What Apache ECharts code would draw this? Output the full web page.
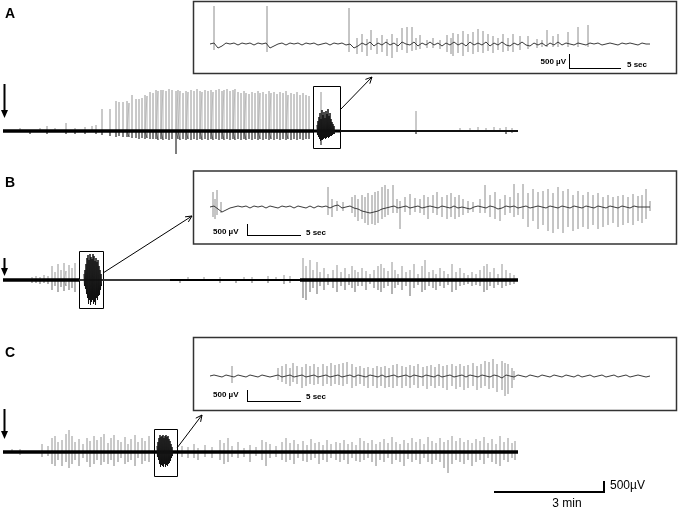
<!DOCTYPE html>
<html><head><meta charset="utf-8">
<script src="https://cdn.jsdelivr.net/npm/echarts@6/dist/echarts.min.js"></script>
<style>html,body{margin:0;padding:0;background:#fff}#c{width:680px;height:511px}</style>
</head><body><div id="c"></div>
<script>
// ---------- DATA (time in trace units, amplitude in trace units) ----------
// Main trace A: gray spikes [time, up, down]
const mainASpikes = [[10,2,2],[20,3,2],[30,2,3],[40,3,2],[47,5,3],[55,3,2],[66,8,3],[75,3,3],[85,4,3],[92,5,2],[96,6,3],
[102,22,4],[110,22,5],[116,30,6],[119,29,5],[123,29,6],[127,30,6],[129,28,6],[132,36,7],[136,32,7],[139,32,8],[142,33,7],[145,36,8],[147,35,7],[150,39,8],[153,38,8],[156,41,8],[158,40,9],[161,41,8],[163,41,9],[166,40,8],[169,42,9],[172,41,8],[176,40,23],[178,41,8],[180,40,9],[183,38,8],[186,40,9],[188,39,8],[191,41,9],[194,40,8],[197,42,9],[200,40,8],[202,39,9],[205,41,8],[208,40,9],[211,41,8],[213,39,9],[216,41,8],[219,42,9],[222,40,8],[224,41,9],[227,42,8],[230,40,9],[233,41,8],[235,42,9],[238,39,8],[241,38,9],[244,40,8],[246,38,9],[249,37,8],[252,39,9],[255,38,8],[258,40,9],[260,38,8],[263,39,9],[266,37,8],[269,40,9],[271,38,8],[274,39,9],[277,37,8],[280,39,9],[283,38,8],[286,40,9],[288,36,8],[291,38,9],[294,37,8],[297,39,9],[300,36,8],[303,38,9],[306,36,8],[309,35,8],[321,39,14],
[345,2,2],[360,2,2],[380,2,1],[400,2,2],[416,20,3],[440,2,2],[460,3,2],[470,3,2],[478,4,2],[486,3,2],[494,4,2],[500,3,2],[506,4,3],[512,3,2]];
// Main trace A: seizure burst (dense) [time, up, down]
const mainABurst = [[317,6,4],[318,10,6],[319,14,8],[320,18,10],[321,12,9],[322,21,9],[323,16,8],[324,19,7],[325,13,8],[326,20,7],[327,17,6],[328,22,7],[329,15,6],[330,18,5],[331,12,5],[332,9,4],[333,7,3],[334,5,3]];

const mainBSpikes = [[32,3,3],[36,4,3],[40,3,4],[44,5,3],[48,4,4],[52,14,10],[55,8,6],[58,16,12],[61,10,7],[64,17,11],[66,9,6],[69,15,10],[72,12,8],[75,17,12],
[172,2,2],[180,2,3],[188,3,2],[196,2,2],[204,3,2],[212,2,2],[220,3,3],[228,2,2],[236,2,3],[244,3,2],[252,3,3],[260,2,2],[268,4,3],[276,3,2],[284,5,4],[290,4,3],
[303,22,18],[306,14,20],[310,20,12],[313,10,8],[317,18,14],[320,8,6],[324,12,10],[328,6,5],[333,10,8],[337,15,12],[341,8,6],[345,12,10],[349,6,5],[352,14,8],[355,10,12],[358,8,6],[362,12,6],[366,9,10],[370,6,4],[374,10,8],[378,14,10],[381,16,12],[384,12,8],[388,9,6],[392,18,14],[395,10,8],[398,6,5],[402,14,10],[406,8,6],[410,10,16],[414,16,8],[418,6,5],[422,14,12],[425,20,10],[429,8,6],[433,10,8],[436,6,10],[440,12,6],[444,9,8],[448,6,5],[452,16,12],[456,8,10],[460,12,6],[464,7,5],[468,5,4],[472,8,6],[476,6,5],[480,10,6],[484,14,12],[487,16,10],[490,8,6],[494,12,8],[498,6,5],[502,16,8],[506,10,6],[510,7,5],[514,5,4]];
const mainBBurst = [[84,6,6],[85,10,9],[86,16,14],[87,22,18],[88,25,24],[89,20,20],[90,26,25],[91,23,22],[92,21,20],[93,26,24],[94,24,22],[95,19,25],[96,22,18],[97,18,20],[98,20,16],[99,14,15],[100,10,10],[101,6,6]];

const mainCSpikes = [[12,3,2],[20,3,3],[28,2,2],[42,8,5],[48,6,4],[52,14,12],[55,16,14],[58,10,8],[62,12,14],[66,18,10],[69,22,16],[72,16,12],[75,10,8],[79,13,14],[83,8,6],[87,14,10],[90,11,15],[94,16,12],[97,12,8],[101,15,13],[104,18,10],[108,9,12],[111,14,8],[114,17,14],[118,12,10],[121,10,6],[125,15,12],[128,8,10],[131,13,8],[135,17,14],[138,10,6],[142,14,12],[145,11,9],[149,16,10],
[182,6,5],[188,5,6],[194,8,6],[198,4,8],[205,7,5],[212,5,6],[220,12,8],[224,9,12],[228,14,10],[232,6,5],[238,10,6],[244,4,5],[250,7,10],[256,5,4],[262,12,8],[266,10,14],[270,8,6],[276,6,5],[282,10,8],[286,14,10],[290,9,8],[294,12,12],[298,8,6],[303,11,9],[307,7,10],[311,13,8],[315,9,6],[319,10,12],[323,7,8],[327,12,10],[331,8,6],[336,10,8],[340,9,10],[344,12,8],[348,8,12],[352,10,6],[356,7,9],[360,14,10],[364,11,8],[368,9,6],[372,12,10],[376,8,14],[380,10,8],[384,13,10],[388,9,6],[392,15,12],[396,10,8],[400,8,10],[404,12,14],[408,9,7],[412,14,10],[416,10,8],[420,13,12],[424,8,6],[428,15,10],[432,11,12],[436,9,8],[440,14,10],[444,10,16],[448,12,21],[452,16,12],[456,11,8],[460,14,10],[464,10,12],[468,12,8],[472,9,14],[476,13,10],[480,11,8],[484,15,12],[488,9,6],[492,13,10],[496,8,12],[500,16,14],[504,10,8],[508,14,10],[512,9,6],[515,11,8]];
const mainCBurst = [[157,6,5],[158,10,8],[159,14,12],[160,17,15],[161,15,13],[162,16,14],[163,17,15],[164,14,12],[165,16,15],[166,17,13],[167,15,14],[168,16,12],[169,13,11],[170,11,9],[171,8,6],[172,5,4]];

// Insets (expanded 5-sec-scale views): spikes [time, up, down] and background ripple (every 4 units)
const insetASpikes = [[4,38,6],[57,38,8],[139,36,8],[147,6,10],[152,10,8],[157,5,12],[161,14,6],[167,6,10],[172,9,8],[177,5,12],[182,10,14],[187,6,8],[192,16,6],[197,17,9],[202,17,7],[206,6,6],[210,9,5],[217,4,4],[223,6,4],[230,4,5],[237,9,8],[241,6,10],[243,11,12],[248,10,9],[253,13,12],[258,10,8],[263,12,10],[268,15,8],[273,13,9],[278,10,7],[283,8,9],[288,6,6],[293,10,8],[298,6,7],[303,10,8],[310,8,6],[318,8,5],[327,5,4],[332,4,3],[337,14,3],[343,8,3],[348,10,3],[358,12,3],[368,17,3],[378,19,3]];
const insetARipple = [0,1,-4,-2,1,0,1,-1,1,0, 1,-1,1,0,1,-4,-2,0,1,-1, 1,0,1,-1,1,0,1,-1,0,1, -1,1,0,1,-1,0,-4,-2,1,-1, 2,-2,1,-1,2,-1,1,-2,2,0, -1,2,-2,1,-1,2,-1,1,-2,1, -1,2,-1,1,-2,2,-1,1,-1,2, -2,1,-1,2,-1,-2,1,-1,2,-1, -2,1,-1,1,-2,1,-1,2,-1,1, 0,-1,1,0,-1,1,0,1,-1,0, 1,0,-1,1,0,1,0,-1,1,0,0];

const insetBSpikes = [[3,15,10],[5,8,12],[7,17,8],[11,5,6],[118,20,8],[122,8,10],[127,6,4],[133,5,4],[142,10,6],[145,12,10],[148,8,14],[152,12,12],[155,10,16],[158,14,18],[162,12,17],[165,15,18],[168,16,16],[172,20,12],[175,22,10],[178,18,8],[183,22,6],[187,8,6],[190,6,22],[195,10,5],[200,13,8],[205,9,5],[210,8,6],[214,12,8],[218,10,12],[223,12,6],[227,15,8],[232,10,10],[237,12,12],[241,14,10],[245,10,12],[249,12,10],[253,8,8],[258,6,6],[263,5,5],[270,8,6],[275,22,6],[280,12,10],[285,15,12],[290,8,14],[295,12,8],[300,10,6],[304,23,10],[308,14,8],[313,23,12],[318,14,20],[323,18,14],[328,15,22],[333,16,18],[338,18,24],[343,14,26],[348,20,22],[353,16,26],[358,18,20],[363,12,24],[368,16,22],[373,12,20],[378,15,22],[383,12,18],[388,14,22],[393,10,20],[398,12,18],[403,10,16],[408,11,20],[413,12,18],[418,10,16],[423,13,18],[428,11,14],[432,12,16],[436,18,12],[440,6,4]];
const insetBRipple = [0,1,-2,-5,-3,-1,0,1,0,1, -1,1,0,1,-1,1,0,-1,1,0, 1,-1,1,0,-1,1,-1,1,0,1, -1,1,2,-1,0,1,-1,-2,-4,-5, -6,-5,-4,-2,-1,0,1,-1,0,1, -1,0,1,-1,0,1,0,-1,1,0, -1,1,-1,0,-1,-2,0,1,0,-1, 1,0,-2,-1,1,0,1,-1,0,1, -1,0,1,0,-1,1,0,-1,1,0, -1,1,0,-1,1,0,-1,1,0,-1, 1,0,-1,1,0,-1,1,0,0,0,0];

const insetCSpikes = [[22,10,7],[68,8,4],[72,10,6],[76,12,8],[80,8,10],[83,13,6],[87,10,8],[92,9,12],[96,12,10],[100,10,8],[104,12,9],[108,9,8],[113,12,10],[117,10,8],[121,13,10],[125,11,8],[129,12,9],[133,13,10],[137,14,8],[142,12,12],[146,9,10],[150,10,8],[154,8,10],[158,9,12],[163,8,10],[167,10,12],[171,9,10],[175,10,12],[179,8,11],[183,11,12],[187,12,10],[192,10,12],[196,9,10],[200,11,12],[204,10,9],[208,12,12],[213,9,10],[217,10,13],[221,11,10],[225,9,12],[229,12,10],[233,10,12],[237,11,14],[242,12,10],[246,10,13],[250,12,11],[254,10,14],[258,11,12],[263,13,10],[267,10,14],[271,12,12],[275,15,10],[279,14,13],[283,17,12],[287,12,16],[292,15,14],[295,13,20],[298,12,18],[302,8,12],[304,5,4]];
const insetCRipple = [0,1,0,-1,1,0,-1,1,0,-1, 1,0,-1,1,0,-1,0,1,-1,0, 1,-1,0,1,-1,0,1,-1,0,1, -1,0,1,-1,0,1,-1,1,0,-1, 1,0,-1,1,-1,0,1,-1,0,1, -1,1,0,-1,1,0,-1,1,-1,0, 1,-1,0,1,-1,1,0,-1,1,0, -1,1,0,-2,1,0,-1,1,0,-1, 1,0,-1,1,0,-1,1,0,-1,1, 0,-1,1,-1,0,1,-1,0,1,-1, 0,1,-1,0,1,-1,0,1,0,-1,0];
const rippleStep = 4;

// ---------- BUILDERS ----------
function upPts(sp){const p=[];sp.forEach(s=>{p.push([s[0],0],[s[0],s[1]],[s[0],0]);});return p;}
function downPts(sp){const p=[];sp.forEach(s=>{p.push([s[0],0],[s[0],-s[2]],[s[0],0]);});return p;}
function burstPts(sp){const p=[];sp.forEach(s=>{p.push([s[0],s[1]],[s[0]+0.5,-s[2]]);});return p;}
function vertPts(sp){const p=[];sp.forEach(s=>{p.push([s[0],s[1]],[s[0],-s[2]],[s[0],'-']);});return p;}
function ripplePts(r){return r.map((v,i)=>[i*rippleStep,v]);}
function ls(idx,data,color,width,z){return {type:'line',xAxisIndex:idx,yAxisIndex:idx,data:data,symbol:'none',showSymbol:false,silent:true,clip:false,connectNulls:false,z:z||2,lineStyle:{color:color,width:width},animation:false};}

const mainBase=[131,280,452], insetBase=[44,207,376];
const grids=[],xAxes=[],yAxes=[];
mainBase.forEach(b=>{grids.push({left:0,top:b-50,width:520,height:100});});
insetBase.forEach(b=>{grids.push({left:210,top:b-40,width:442,height:80});});
grids.forEach((g,i)=>{
  const main=i<3;
  xAxes.push({type:'value',gridIndex:i,min:0,max:main?520:442,show:false});
  yAxes.push({type:'value',gridIndex:i,min:main?-50:-40,max:main?50:40,show:false});
});

const series=[
  ls(0,upPts(mainASpikes),'#b8b8b8',1,2), ls(0,downPts(mainASpikes),'#555',1,3),
  ls(0,[[3,0],[313,0]],'#000',3.5,4), ls(0,[[313,0],[340,0]],'#000',3,4), ls(0,[[340,0],[518,0]],'#111',2,4),
  ls(0,burstPts(mainABurst),'#111',1,5),
  ls(1,upPts(mainBSpikes),'#b8b8b8',1,2), ls(1,downPts(mainBSpikes),'#999',1,3),
  ls(1,[[3,0],[79,0]],'#000',3.5,4), ls(1,[[79,0],[170,0]],'#111',1.3,4), ls(1,[[170,0],[300,0]],'#000',2.2,4), ls(1,[[300,0],[518,0]],'#000',3.5,4),
  ls(1,burstPts(mainBBurst),'#111',1,5),
  ls(2,upPts(mainCSpikes),'#b8b8b8',1,2), ls(2,downPts(mainCSpikes),'#aaa',1,3),
  ls(2,[[3,0],[518,0]],'#000',3.5,4),
  ls(2,burstPts(mainCBurst),'#111',1,5),
  ls(3,vertPts(insetASpikes),'#8c8c8c',1,2), ls(3,ripplePts(insetARipple),'#3a3a3a',1,3),
  ls(4,vertPts(insetBSpikes),'#8c8c8c',1,2), ls(4,ripplePts(insetBRipple),'#3a3a3a',1,3),
  ls(5,vertPts(insetCSpikes),'#8c8c8c',1,2), ls(5,ripplePts(insetCRipple),'#3a3a3a',1,3)
];

// ---------- ANNOTATIONS ----------
const F='"Liberation Sans", Arial, sans-serif';
const g=[];
function txt(x,y,t,font,align){g.push({type:'text',x:x,y:y,silent:true,style:{text:t,font:font,fill:'#000',align:align||'left',verticalAlign:'middle'}});}
function line(x1,y1,x2,y2,w,c){g.push({type:'line',silent:true,shape:{x1:x1,y1:y1,x2:x2,y2:y2},style:{stroke:c||'#000',lineWidth:w||1}});}
function rect(x,y,w,h,lw,c){g.push({type:'rect',silent:true,shape:{x:x,y:y,width:w,height:h},style:{fill:'none',stroke:c||'#000',lineWidth:lw||1}});}
function downArrow(x,y1,y2){line(x,y1,x,y2-6,2);g.push({type:'polygon',silent:true,shape:{points:[[x-3.5,y2-8],[x+3.5,y2-8],[x,y2]]},style:{fill:'#000'}});}
function zoomArrow(x1,y1,x2,y2){
  line(x1,y1,x2,y2,1);
  const a=Math.atan2(y2-y1,x2-x1),L=7,s=0.45;
  g.push({type:'polyline',silent:true,shape:{points:[[x2-L*Math.cos(a-s),y2-L*Math.sin(a-s)],[x2,y2],[x2-L*Math.cos(a+s),y2-L*Math.sin(a+s)]]},style:{stroke:'#000',lineWidth:1,fill:'none'}});
}
txt(10,14,'A','bold 14px '+F,'center');
txt(10,183,'B','bold 14px '+F,'center');
txt(10,353,'C','bold 14px '+F,'center');
downArrow(4.5,84,118); downArrow(4.5,258,276); downArrow(4.5,409,439);
rect(193.5,1.5,483,72,1.5,'#333'); rect(193.5,171,483,73,1.5,'#333'); rect(193.5,337.5,483,73,1.5,'#333');
rect(313.5,86.5,27,62,1); rect(79.5,251.5,24,57,1); rect(154.5,429.5,23,47,1);
zoomArrow(340,110,372,77); zoomArrow(103,273,192,216); zoomArrow(177,448,202,415);
txt(566,62,'500 µV','bold 8px '+F,'right'); line(569.5,54,569.5,68.5,1); line(569,68.5,621,68.5,1); txt(627,64.5,'5 sec','bold 8px '+F,'left');
txt(213,231.5,'500 µV','bold 8px '+F,'left'); line(247.5,224,247.5,235.5,1); line(247,235.5,301,235.5,1); txt(306,233,'5 sec','bold 8px '+F,'left');
txt(213,395,'500 µV','bold 8px '+F,'left'); line(247.5,390,247.5,401.5,1); line(247,401.5,301,401.5,1); txt(306,397,'5 sec','bold 8px '+F,'left');
line(494,492,605,492,2); line(604,481,604,493,2);
txt(610,486,'500µV','12px '+F,'left');
txt(567,504,'3 min','12px '+F,'center');

const chart=echarts.init(document.getElementById('c'),null,{renderer:'canvas'});
chart.setOption({animation:false,backgroundColor:'#fff',grid:grids,xAxis:xAxes,yAxis:yAxes,series:series,graphic:g});
</script></body></html>
